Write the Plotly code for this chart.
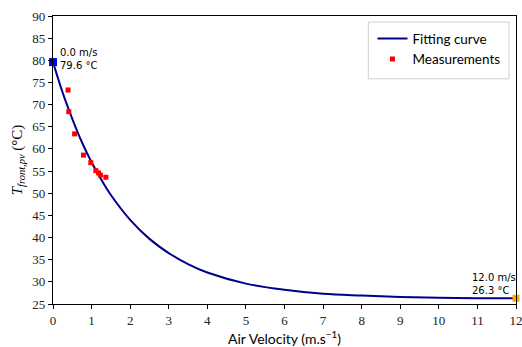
import plotly.graph_objects as go

# Fitting curve
fit_v = [0, 0.25, 0.5, 0.75, 1.0, 1.25, 1.5, 2.0, 2.5, 3.0, 3.5, 4.0, 5.0, 6.0, 7.0, 8.0, 9.0, 10.0, 11.0, 12.0]
fit_t = [79.6, 72.7, 66.8, 61.5, 57.0, 53.1, 49.6, 44.0, 39.7, 36.5, 34.0, 32.1, 29.6, 28.2, 27.3, 26.9, 26.6, 26.4, 26.3, 26.3]

# Measurements
meas_v = [0.39, 0.41, 0.56, 0.79, 0.98, 1.11, 1.18, 1.23, 1.37]
meas_t = [73.3, 68.4, 63.4, 58.6, 56.9, 55.1, 54.6, 54.1, 53.6]

# End points
start_v, start_t = 0.0, 79.6
end_v, end_t = 12.0, 26.3

x_ticks = list(range(0, 13))
y_ticks = list(range(25, 91, 5))

serif = "Liberation Serif"
sans = "Lato"

fig = go.Figure()
fig.add_trace(go.Scatter(x=fit_v, y=fit_t, mode="lines", name="Fitting curve",
                         line=dict(color="#00008B", width=2, shape="spline", smoothing=1.0)))
fig.add_trace(go.Scatter(x=meas_v, y=meas_t, mode="markers", name="Measurements",
                         marker=dict(color="red", symbol="square", size=5)))
fig.add_trace(go.Scatter(x=[start_v], y=[start_t], mode="markers", showlegend=False,
                         marker=dict(color="blue", symbol="square", size=8), cliponaxis=False))
fig.add_trace(go.Scatter(x=[end_v], y=[end_t], mode="markers", showlegend=False,
                         marker=dict(color="orange", symbol="square", size=7), cliponaxis=False))

fig.add_annotation(x=start_v, y=start_t, text=f"{start_v:.1f} m/s<br>{start_t:.1f} °C",
                   showarrow=False, xanchor="left", yanchor="bottom", xshift=5, yshift=-11,
                   align="left", font=dict(family="DejaVu Sans", size=10, color="black"))
fig.add_annotation(x=end_v, y=end_t, text=f"{end_v:.1f} m/s<br>{end_t:.1f} °C",
                   showarrow=False, xanchor="right", yanchor="bottom", xshift=2, yshift=0,
                   align="left", font=dict(family="DejaVu Sans", size=10, color="black"))

# legend frame like the reference
fig.add_shape(type="rect", xref="paper", yref="paper", layer="below",
              x0=0.681, x1=0.985, y0=0.782, y1=0.979,
              line=dict(color="#d0d0d0", width=1), fillcolor="white")

axis_common = dict(showgrid=False, zeroline=False, showline=True, linecolor="black", linewidth=1.2,
                   mirror=True, ticks="outside", ticklen=4, tickcolor="black", automargin=False,
                   ticklabeloverflow="allow",
                   tickfont=dict(family=serif, size=13, color="#222"))

fig.update_xaxes(range=[0, 12], tickvals=x_ticks, title=dict(text="Air Velocity (m.s<sup>−1</sup>)",
                 font=dict(family=sans, size=14, color="black"), standoff=4), **axis_common)
fig.update_yaxes(range=[25, 90], tickvals=y_ticks,
                 title=dict(text="<i>T</i><sub><i>front,pv</i></sub> (°C)",
                            font=dict(family=serif, size=15, color="black"), standoff=6), **axis_common)

fig.update_layout(width=522, height=347, margin=dict(l=53, r=6, t=16, b=43),
                  plot_bgcolor="white", paper_bgcolor="white",
                  legend=dict(x=0.69, y=0.975, xanchor="left", yanchor="top",
                              bgcolor="rgba(0,0,0,0)", borderwidth=0,
                              font=dict(family=sans, size=13.5, color="black")))

fig.write_html("out.html", config={"displayModeBar": False},
               post_script="document.body.style.margin='0';document.body.style.overflow='hidden';")
